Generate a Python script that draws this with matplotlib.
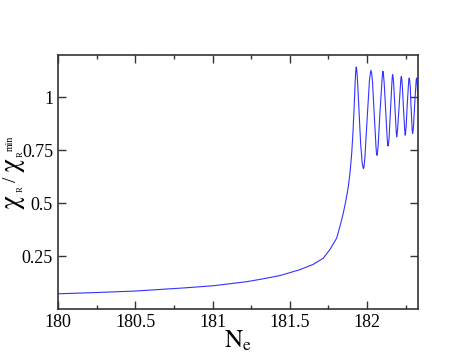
import matplotlib
matplotlib.use("Agg")
import matplotlib.pyplot as plt
from matplotlib.ticker import MultipleLocator

plt.rcParams['font.family'] = ['Liberation Serif', 'DejaVu Serif']
plt.rcParams['mathtext.fontset'] = 'stix'

# values
ne = [180.0, 180.25, 180.5, 180.82, 181.005, 181.22, 181.307, 181.436, 181.565,
      181.651, 181.716, 181.76, 181.803, 181.824, 181.845, 181.862, 181.878, 181.89,
      181.9, 181.908, 181.915, 181.923, 181.926, 181.929, 181.932, 181.936,
      181.942, 181.958, 181.968, 181.975, 181.979, 181.985,
      182.0, 182.015, 182.021, 182.025, 182.029, 182.035,
      182.045, 182.057, 182.060, 182.063, 182.066, 182.071,
      182.083, 182.097, 182.100, 182.102, 182.105, 182.110,
      182.119, 182.130, 182.133, 182.135, 182.138, 182.142,
      182.151, 182.161, 182.163, 182.165, 182.168, 182.172,
      182.179, 182.188, 182.190, 182.191, 182.193, 182.197,
      182.207, 182.217, 182.219, 182.221, 182.224, 182.228,
      182.234, 182.243, 182.245, 182.246, 182.248, 182.252,
      182.259, 182.268, 182.270, 182.272, 182.275, 182.279,
      182.283, 182.291, 182.293, 182.294, 182.296, 182.300,
      182.307, 182.316, 182.318, 182.320, 182.323, 182.329]
chi = [0.072, 0.078, 0.085, 0.100, 0.110, 0.129, 0.140, 0.158, 0.186,
       0.211, 0.240, 0.282, 0.335, 0.39, 0.451, 0.51, 0.577, 0.65,
       0.734, 0.83, 0.939, 1.08, 1.12, 1.143, 1.135, 1.10,
       1.017, 0.78, 0.69, 0.664, 0.668, 0.71,
       0.90, 1.08, 1.115, 1.127, 1.115, 1.07,
       0.93, 0.77, 0.738, 0.726, 0.735, 0.77,
       0.93, 1.09, 1.115, 1.123, 1.11, 1.07,
       0.95, 0.80, 0.778, 0.770, 0.778, 0.81,
       0.94, 1.08, 1.10, 1.107, 1.095, 1.06,
       0.96, 0.84, 0.82, 0.813, 0.82, 0.85,
       0.96, 1.075, 1.092, 1.098, 1.085, 1.05,
       0.96, 0.845, 0.828, 0.821, 0.828, 0.86,
       0.96, 1.07, 1.085, 1.091, 1.08, 1.05,
       0.97, 0.85, 0.835, 0.829, 0.836, 0.865,
       0.96, 1.07, 1.085, 1.091, 1.075, 0.98]

xticks = [180, 180.5, 181, 181.5, 182]
xlabels = ['180', '180.5', '181', '181.5', '182']
yticks = [0.25, 0.5, 0.75, 1]
ylabels = ['0.25', '0.5', '0.75', '1']

W, H = 471, 364
fig = plt.figure(figsize=(W / 100, H / 100), dpi=100)
ax = fig.add_axes([0.123, 0.151, 0.7645, 0.698])
ax.plot(ne, chi, color='#3333ff', lw=0.8)

ax.set_xlim(180, 182.329)
ax.set_ylim(0, 1.2)
ax.set_xticks(xticks)
ax.set_xticklabels(xlabels)
ax.set_yticks(yticks)
ax.set_yticklabels(ylabels)
ax.xaxis.set_minor_locator(MultipleLocator(0.25))
ax.tick_params(which='both', direction='in', top=True, right=True,
               labelsize=13, color='#333333', width=1.0)
ax.tick_params(which='major', length=6)
ax.tick_params(which='minor', length=3)
for s in ax.spines.values():
    s.set_color('#333333')
    s.set_linewidth(1.2)

ax.set_xlabel(r'$\mathrm{N_e}$', fontsize=18)
ax.xaxis.set_label_coords(0.5, -0.075)


# y label built from pieces so the sub/superscripts stay small like the original
def ypiece(s, px, py, size, family=None):
    fig.text(px / W, 1 - py / H, s, rotation=90, ha='center', va='center',
             fontsize=size, family=family)


ypiece('χ', 12, 202, 20, 'STIXGeneral')
ypiece('R', 21, 189, 6)
ypiece('/', 11.5, 179, 14)
ypiece('χ', 12, 165, 20, 'STIXGeneral')
ypiece('R', 21, 154, 6)
ypiece('min', 10.5, 143.5, 7)

fig.savefig('out.png', dpi=100)
